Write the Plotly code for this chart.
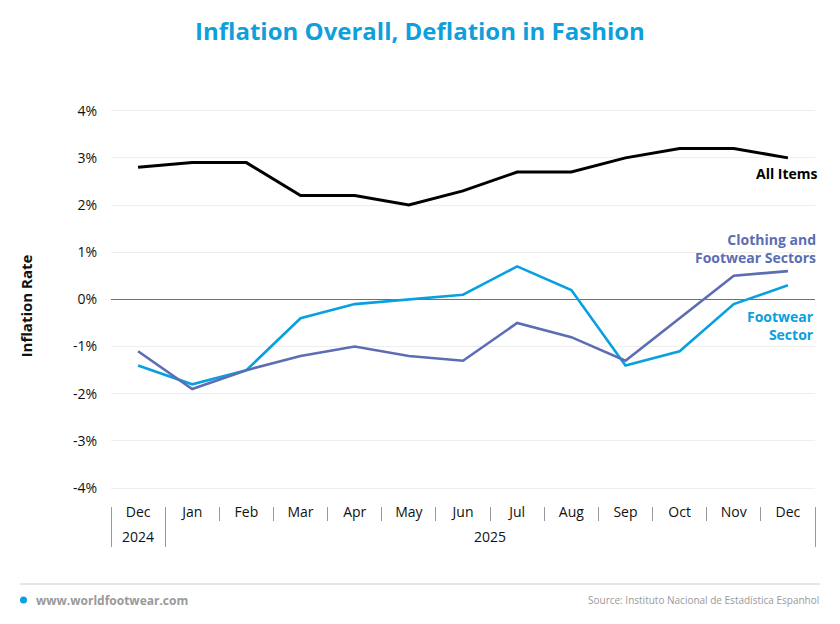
import plotly.graph_objects as go

years = ["2024"] + ["2025"] * 12
# the 2025 "Dec" carries a zero-width space so it stays distinct from the 2024 "Dec"
months = ["Dec", "Jan", "Feb", "Mar", "Apr", "May", "Jun", "Jul", "Aug", "Sep", "Oct", "Nov", "Dec\u200b"]

all_items = [2.8, 2.9, 2.9, 2.2, 2.2, 2.0, 2.3, 2.7, 2.7, 3.0, 3.2, 3.2, 3.0]
clothing_footwear = [-1.1, -1.9, -1.5, -1.2, -1.0, -1.2, -1.3, -0.5, -0.8, -1.3, -0.4, 0.5, 0.6]
footwear = [-1.4, -1.8, -1.5, -0.4, -0.1, 0.0, 0.1, 0.7, 0.2, -1.4, -1.1, -0.1, 0.3]

y_ticks = [-4, -3, -2, -1, 0, 1, 2, 3, 4]
y_labels = ["-4%", "-3%", "-2%", "-1%", "0%", "1%", "2%", "3%", "4%"]

BLACK = "#000000"
SLATE = "#5b6db3"
SKY = "#08a0e0"
FONT = "Open Sans"

x = [years, months]

fig = go.Figure()
fig.add_trace(go.Scatter(x=x, y=footwear, mode="lines", line=dict(color=SKY, width=2.6), name="Footwear Sector"))
fig.add_trace(go.Scatter(x=x, y=clothing_footwear, mode="lines", line=dict(color=SLATE, width=2.6), name="Clothing and Footwear Sectors"))
fig.add_trace(go.Scatter(x=x, y=all_items, mode="lines", line=dict(color=BLACK, width=3), name="All Items"))

fig.update_layout(
    width=840, height=624,
    margin=dict(l=111, r=25, t=106, b=118),
    paper_bgcolor="white", plot_bgcolor="white",
    showlegend=False,
    font=dict(family=FONT, color="#111111", size=13),
    title=dict(text="<b>Inflation Overall, Deflation in Fashion</b>", x=0.5, xanchor="center",
               y=0.95, yanchor="middle", yref="container",
               font=dict(family=FONT, size=24, color="#0e9fdc")),
)

fig.update_yaxes(
    range=[-4.38, 4.1], tickvals=y_ticks, ticktext=y_labels,
    showgrid=True, gridcolor="#eeeeee", gridwidth=1,
    zeroline=True, zerolinecolor="#707070", zerolinewidth=1,
    showline=False, ticks="", ticklabelstandoff=13,
    tickfont=dict(size=14, color="#111111"),
    title=dict(text="<b>Inflation Rate</b>", font=dict(size=15, color="#111111"), standoff=36),
)

fig.update_xaxes(
    type="multicategory", range=[-0.5, len(months) - 0.5],
    showgrid=False, showline=False, zeroline=False,
    ticks="outside", ticklen=14, tickcolor="#999999", ticklabelstandoff=-4,
    showdividers=True, dividercolor="#999999", dividerwidth=1,
    tickfont=dict(size=14, color="#111111"),
)

def px(xp):
    return (xp - 111) / 704

def py(yp):
    return (506 - yp) / 400

fig.add_annotation(text="<b>All Items</b>", x=px(820), y=py(173), xref="paper", yref="paper",
                   xanchor="right", yanchor="middle", showarrow=False, align="right",
                   font=dict(size=14, color=BLACK))
fig.add_annotation(text="<b>Clothing and<br>Footwear Sectors</b>", x=px(818), y=py(248), xref="paper", yref="paper",
                   xanchor="right", yanchor="middle", showarrow=False, align="right",
                   font=dict(size=14, color=SLATE))
fig.add_annotation(text="<b>Footwear<br>Sector</b>", x=px(816), y=py(325), xref="paper", yref="paper",
                   xanchor="right", yanchor="middle", showarrow=False, align="right",
                   font=dict(size=14, color=SKY))

# footer
fig.add_shape(type="line", xref="paper", yref="paper", x0=px(20), x1=px(820), y0=py(584), y1=py(584),
              line=dict(color="#cccccc", width=1))
fig.add_shape(type="circle", xref="paper", yref="paper", x0=px(20), x1=px(27), y0=py(596.5), y1=py(603.5),
              fillcolor=SKY, line=dict(width=0))
fig.add_annotation(text="<b>www.worldfootwear.com</b>", x=px(34), y=py(600), xref="paper", yref="paper",
                   xanchor="left", yanchor="middle", showarrow=False,
                   font=dict(size=12, color="#999999"))
fig.add_annotation(text="Source: Instituto Nacional de Estadística Espanhol", x=px(821), y=py(600),
                   xref="paper", yref="paper", xanchor="right", yanchor="middle", showarrow=False,
                   font=dict(size=10, color="#999999"))

fig.write_html("out.html", config={"displayModeBar": False},
               post_script="document.body.style.margin='0';")
